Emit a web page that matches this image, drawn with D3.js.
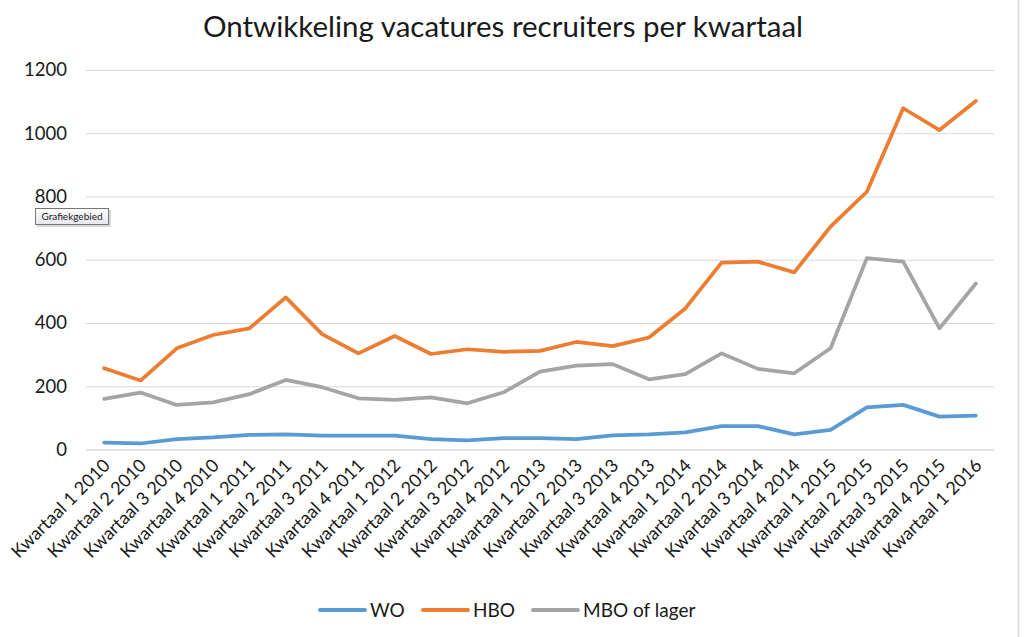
<!DOCTYPE html>
<html>
<head>
<meta charset="utf-8">
<script src="https://cdn.jsdelivr.net/npm/d3@7"></script>
<style>
  html, body { margin: 0; padding: 0; background: #fff; }
  svg { display: block; }
  text { font-family: Lato, "Open Sans", sans-serif; fill: #1a1a1a; }
</style>
</head>
<body>
<svg id="chart" width="1024" height="637"></svg>
<script>
const title = "Ontwikkeling vacatures recruiters per kwartaal";
const categories = [
  "Kwartaal 1 2010","Kwartaal 2 2010","Kwartaal 3 2010","Kwartaal 4 2010",
  "Kwartaal 1 2011","Kwartaal 2 2011","Kwartaal 3 2011","Kwartaal 4 2011",
  "Kwartaal 1 2012","Kwartaal 2 2012","Kwartaal 3 2012","Kwartaal 4 2012",
  "Kwartaal 1 2013","Kwartaal 2 2013","Kwartaal 3 2013","Kwartaal 4 2013",
  "Kwartaal 1 2014","Kwartaal 2 2014","Kwartaal 3 2014","Kwartaal 4 2014",
  "Kwartaal 1 2015","Kwartaal 2 2015","Kwartaal 3 2015","Kwartaal 4 2015",
  "Kwartaal 1 2016"
];
const woValues  = [22,19,33,38,46,48,44,44,44,33,29,36,36,33,45,48,54,74,74,48,62,133,141,104,107];
const hboValues = [257,218,320,362,383,481,365,304,359,302,317,309,312,340,327,354,446,591,594,560,705,815,1079,1010,1102];
const mboValues = [160,180,141,149,175,220,197,162,157,165,146,181,246,265,270,222,238,304,255,241,320,605,594,383,525];
const seriesNames = ["WO","HBO","MBO of lager"];
const seriesColors = ["#5B9BD5","#ED7D31","#A5A5A5"];
const yTicks = [0,200,400,600,800,1000,1200];
const tooltipText = "Grafiekgebied";

const series = [
  {name: seriesNames[0], values: woValues,  color: seriesColors[0]},
  {name: seriesNames[1], values: hboValues, color: seriesColors[1]},
  {name: seriesNames[2], values: mboValues, color: seriesColors[2]}
];

const svg = d3.select("#chart");

// outer chart border on the right
svg.append("line").attr("x1", 1018.5).attr("x2", 1018.5).attr("y1", 0).attr("y2", 637)
  .attr("stroke", "#d9d9d9").attr("stroke-width", 1.5);

const plot = {left: 86, right: 994, top: 70, bottom: 449.5};

const x = d3.scaleBand().domain(categories).range([plot.left, plot.right]).padding(0);
const y = d3.scaleLinear().domain([0, 1200]).range([plot.bottom, plot.top]);

// title
svg.append("text").attr("x", 503).attr("y", 37).attr("text-anchor", "middle")
  .style("font-size", "29.5px").text(title);

// gridlines + y labels
const yAxis = d3.axisLeft(y).tickValues(yTicks).tickFormat(d3.format("d"))
  .tickSize(-(plot.right - plot.left)).tickPadding(19);
const gy = svg.append("g").attr("transform", `translate(${plot.left},0)`).call(yAxis);
gy.select(".domain").remove();
gy.selectAll(".tick line").attr("stroke", "#d9d9d9").attr("stroke-width", 1);
gy.selectAll(".tick text").style("font-size", "18.5px").attr("fill", "#1a1a1a")
  .style("font-family", "Lato, sans-serif");

// x axis labels
const xAxis = d3.axisBottom(x).tickSize(0).tickPadding(0);
const gx = svg.append("g").attr("transform", `translate(0,${plot.bottom})`).call(xAxis);
gx.select(".domain").attr("stroke", "#d9d9d9");
gx.selectAll(".tick text")
  .style("font-size", "18px").style("font-family", "Lato, sans-serif").attr("fill", "#1a1a1a")
  .attr("text-anchor", "end")
  .attr("dy", "0")
  .attr("transform", "translate(7,17) rotate(-45)");

// lines
const line = d3.line()
  .x((d, i) => x(categories[i]) + x.bandwidth() / 2)
  .y(d => y(d));

svg.append("g").selectAll("path").data(series).join("path")
  .attr("d", d => line(d.values))
  .attr("fill", "none")
  .attr("stroke", d => d.color)
  .attr("stroke-width", 3.75)
  .attr("stroke-linejoin", "round")
  .attr("stroke-linecap", "round");

// legend
const legendX = [320, 423, 533];
const lg = svg.append("g").selectAll("g").data(series).join("g")
  .attr("transform", (d, i) => `translate(${legendX[i]},610)`);
lg.append("line").attr("x1", 0).attr("x2", 45).attr("y1", 0).attr("y2", 0)
  .attr("stroke", d => d.color).attr("stroke-width", 4).attr("stroke-linecap", "round");
lg.append("text").attr("x", 50).attr("y", 0).attr("dy", "0.35em")
  .style("font-size", "19px").text(d => d.name);

// tooltip box
const tt = svg.append("g").attr("transform", "translate(35,208)");
const grad = svg.append("defs").append("linearGradient").attr("id", "ttg")
  .attr("x1", 0).attr("y1", 0).attr("x2", 0).attr("y2", 1);
grad.append("stop").attr("offset", "0%").attr("stop-color", "#ffffff");
grad.append("stop").attr("offset", "100%").attr("stop-color", "#e6e6ee");
tt.append("rect").attr("x", 2).attr("y", 2).attr("width", 74).attr("height", 17)
  .attr("fill", "#c8c8c8").attr("opacity", 0.7);
tt.append("rect").attr("x", 0.5).attr("y", 0.5).attr("width", 73).attr("height", 16)
  .attr("fill", "url(#ttg)").attr("stroke", "#767676").attr("stroke-width", 1);
tt.append("text").attr("x", 37).attr("y", 12).attr("text-anchor", "middle")
  .style("font-size", "10px").style("font-family", "Lato, sans-serif")
  .attr("fill", "#575757").text(tooltipText);
</script>
</body>
</html>
